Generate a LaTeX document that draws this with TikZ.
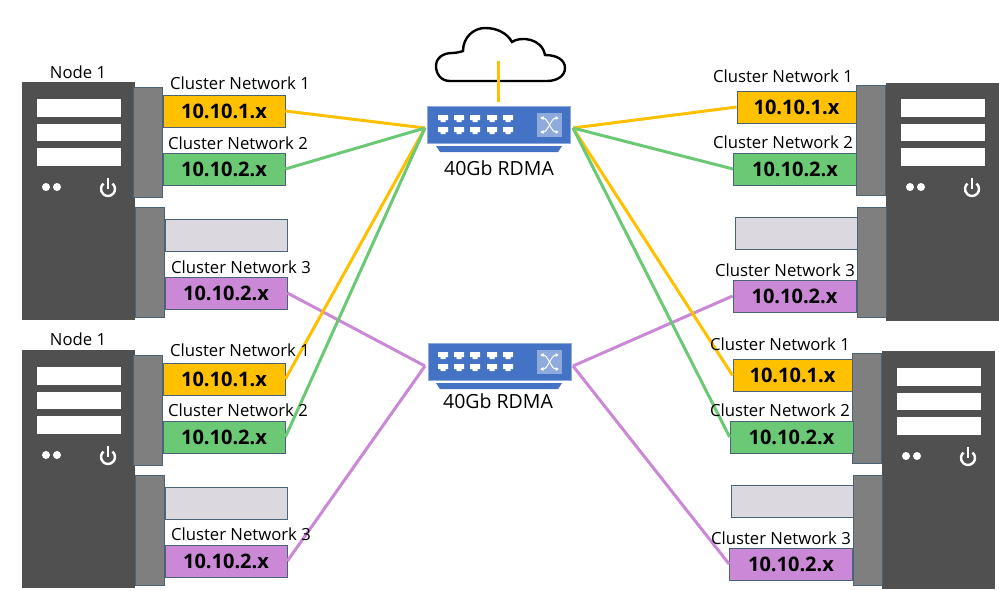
\documentclass[tikz,border=0pt]{standalone}
\usepackage{fontspec}
\setmainfont{Open Sans}
\usetikzlibrary{arrows.meta}
\definecolor{orangeline}{HTML}{FFC000}
\definecolor{greenline}{HTML}{6BC874}
\definecolor{purpleline}{HTML}{CA88D6}
\definecolor{boxedge}{HTML}{4A6377}
\definecolor{chassisfill}{HTML}{505050}
\definecolor{bayfill}{HTML}{7F7F7F}
\definecolor{sparefill}{HTML}{DBD8E0}
\definecolor{switchfill}{HTML}{4472C4}
\definecolor{switchpanel}{HTML}{8FAADC}
\begin{document}
\begin{tikzpicture}[x=1pt,y=-1pt,
    chassis/.style={rectangle,fill=chassisfill,inner sep=0pt,minimum width=113pt,minimum height=238pt},
    bay/.style={rectangle,draw=boxedge,fill=bayfill,line width=0.8pt,inner sep=0pt,minimum width=29pt,minimum height=110pt},
    netbox/.style={rectangle,draw=boxedge,line width=0.8pt,inner sep=0pt,minimum width=122pt,minimum height=32pt,font=\fontsize{20}{22}\selectfont\bfseries},
    netlabel/.style={inner sep=0pt,font=\fontsize{16.7}{20}\selectfont},
    switchbox/.style={rectangle,fill=switchfill,draw=switchpanel,line width=0.5pt,inner sep=0pt,minimum width=143pt,minimum height=37pt}]
  \useasboundingbox (0,0) rectangle (999,590);

  % servers
  \node[chassis] (ca) at (78.5,201) {};
  \node[chassis] (cb) at (78.5,469) {};
  \node[chassis] (cc) at (942.5,202) {};
  \node[chassis] (cd) at (938.5,470) {};
  \node[bay] (ca1) at (147.5,142) {};
  \node[bay] (ca2) at (149.5,262) {};
  \node[bay] (cb1) at (147.5,410) {};
  \node[bay] (cb2) at (149.5,530) {};
  \node[bay] (cc1) at (871,140) {};
  \node[bay] (cc2) at (871.5,262) {};
  \node[bay] (cd1) at (867,408) {};
  \node[bay] (cd2) at (867.5,530) {};
  \foreach \sx/\sy in {37/0,37/268,901/0,897/269} {
    \begin{scope}[shift={(\sx,\sy)}]
      \fill[white] (0,99) rectangle (84,117);
      \fill[white] (0,124) rectangle (84,141);
      \fill[white] (0,148) rectangle (84,166);
      \fill[white] (9,187) circle (4);
      \fill[white] (20,187) circle (4);
      \draw[white,line width=2.4pt] (75.5,183.6) arc (-50:230:7);
      \draw[white,line width=2.4pt] (71,178) -- (71,189);
    \end{scope}
  }

  % address boxes
  \node[netbox,fill=orangeline] (a1) at (224,111) {10.10.1.x};
  \node[netbox,fill=greenline] (a2) at (224,169) {10.10.2.x};
  \node[netbox,fill=sparefill] (a3) at (226,235.5) {};
  \node[netbox,fill=purpleline] (a4) at (226,293) {10.10.2.x};
  \node[netbox,fill=orangeline] (b1) at (224,379) {10.10.1.x};
  \node[netbox,fill=greenline] (b2) at (224,437) {10.10.2.x};
  \node[netbox,fill=sparefill] (b3) at (226,503.5) {};
  \node[netbox,fill=purpleline] (b4) at (226,561) {10.10.2.x};
  \node[netbox,fill=orangeline,minimum width=119pt] (c1) at (796.5,107) {10.10.1.x};
  \node[netbox,fill=greenline,minimum width=123pt] (c2) at (795,169) {10.10.2.x};
  \node[netbox,fill=sparefill] (c3) at (796,233.5) {};
  \node[netbox,fill=purpleline,minimum width=123pt] (c4) at (794.5,296) {10.10.2.x};
  \node[netbox,fill=orangeline,minimum width=119pt] (d1) at (792.5,375.5) {10.10.1.x};
  \node[netbox,fill=greenline,minimum width=123pt] (d2) at (791.5,437) {10.10.2.x};
  \node[netbox,fill=sparefill] (d3) at (792.5,501.5) {};
  \node[netbox,fill=purpleline,minimum width=123pt] (d4) at (791,564) {10.10.2.x};

  % cloud
  \draw[black,line width=2.4pt,fill=white] (450,81) .. controls (441,81) and (436,74) .. (436,66)
    .. controls (436,58) and (443,53) .. (452,53) .. controls (456,53) and (460,52) .. (463,51)
    .. controls (463,37) and (474,28) .. (485,28) .. controls (497,28) and (507,33) .. (512,42)
    .. controls (520,36) and (542,38) .. (545,55) .. controls (557,55) and (565,60) .. (565,68)
    .. controls (565,76) and (557,81) .. (547,81) -- cycle;
  \coordinate (up) at (498.5,61);
  \coordinate (dn) at (498.5,102);

  % switches
  \node[switchbox] (s1) at (498.5,124.5) {};
  \node[switchbox] (s2) at (499.5,361.5) {};
  \foreach \sy in {0,237} {
    \begin{scope}[shift={(0,\sy)}]
      \foreach \px in {443,459,475,492,508} {
        \begin{scope}[shift={(\px,0)}]
          \fill[white] (-5,115) -- (5,115) -- (5,120) -- (2.5,120) -- (2.5,122) -- (-2.5,122) -- (-2.5,120) -- (-5,120) -- cycle;
          \fill[white] (-5,127) -- (5,127) -- (5,132) -- (2.5,132) -- (2.5,134) -- (-2.5,134) -- (-2.5,132) -- (-5,132) -- cycle;
        \end{scope}
      }
      \fill[switchpanel] (537,113) rectangle (562,137);
      \draw[white,line width=1pt,{Latex[length=3.5pt,width=4pt]}-{Latex[length=3.5pt,width=4pt]}] (540,118) .. controls (548,118) and (551,132) .. (559,132);
      \draw[white,line width=1pt,{Latex[length=3.5pt,width=4pt]}-{Latex[length=3.5pt,width=4pt]}] (540,132) .. controls (548,132) and (551,118) .. (559,118);
      \fill[switchfill] (436,146) -- (562,146) -- (558,152) -- (440,152) -- cycle;
    \end{scope}
  }
  \coordinate (s1w) at (425,128);
  \coordinate (s1e) at (573,128);
  \coordinate (s2w) at (425,366);
  \coordinate (s2e) at (573,366);

  % wires
  \begin{scope}[every edge/.style={draw,line width=3pt}]
    \path (up) edge[orangeline] (dn);
    \path (a1.east) edge[orangeline] (s1w);
    \path (a2.east) edge[greenline] (s1w);
    \path (a4.east) edge[purpleline] (s2w);
    \path (b1.east) edge[orangeline] (s1w);
    \path (b2.east) edge[greenline] (s1w);
    \path (b4.east) edge[purpleline] (s2w);
    \path (c1.west) edge[orangeline] (s1e);
    \path (c2.west) edge[greenline] (s1e);
    \path (c4.west) edge[purpleline] (s2e);
    \path (d1.west) edge[orangeline] (s1e);
    \path (d2.west) edge[greenline] (s1e);
    \path (d4.west) edge[purpleline] (s2e);
  \end{scope}

  % labels
  \begin{scope}[every node/.style={netlabel}]
    \node (na) at (78,72) {Node 1};
    \node (nb) at (78,339) {Node 1};
    \node (la1) at (240,83) {Cluster Network 1};
    \node (la2) at (238,143) {Cluster Network 2};
    \node (la4) at (241,267) {Cluster Network 3};
    \node (lb1) at (240,350) {Cluster Network 1};
    \node (lb2) at (238,410) {Cluster Network 2};
    \node (lb4) at (241,534) {Cluster Network 3};
    \node (lc1) at (783,76) {Cluster Network 1};
    \node (lc2) at (783,142) {Cluster Network 2};
    \node (lc4) at (785,270) {Cluster Network 3};
    \node (ld1) at (780,344) {Cluster Network 1};
    \node (ld2) at (780,410) {Cluster Network 2};
    \node (ld4) at (781,538) {Cluster Network 3};
    \node[font=\fontsize{19.5}{22}\selectfont] (t1) at (499,168) {40Gb RDMA};
    \node[font=\fontsize{19.5}{22}\selectfont] (t2) at (498,401) {40Gb RDMA};
  \end{scope}
\end{tikzpicture}
\end{document}
